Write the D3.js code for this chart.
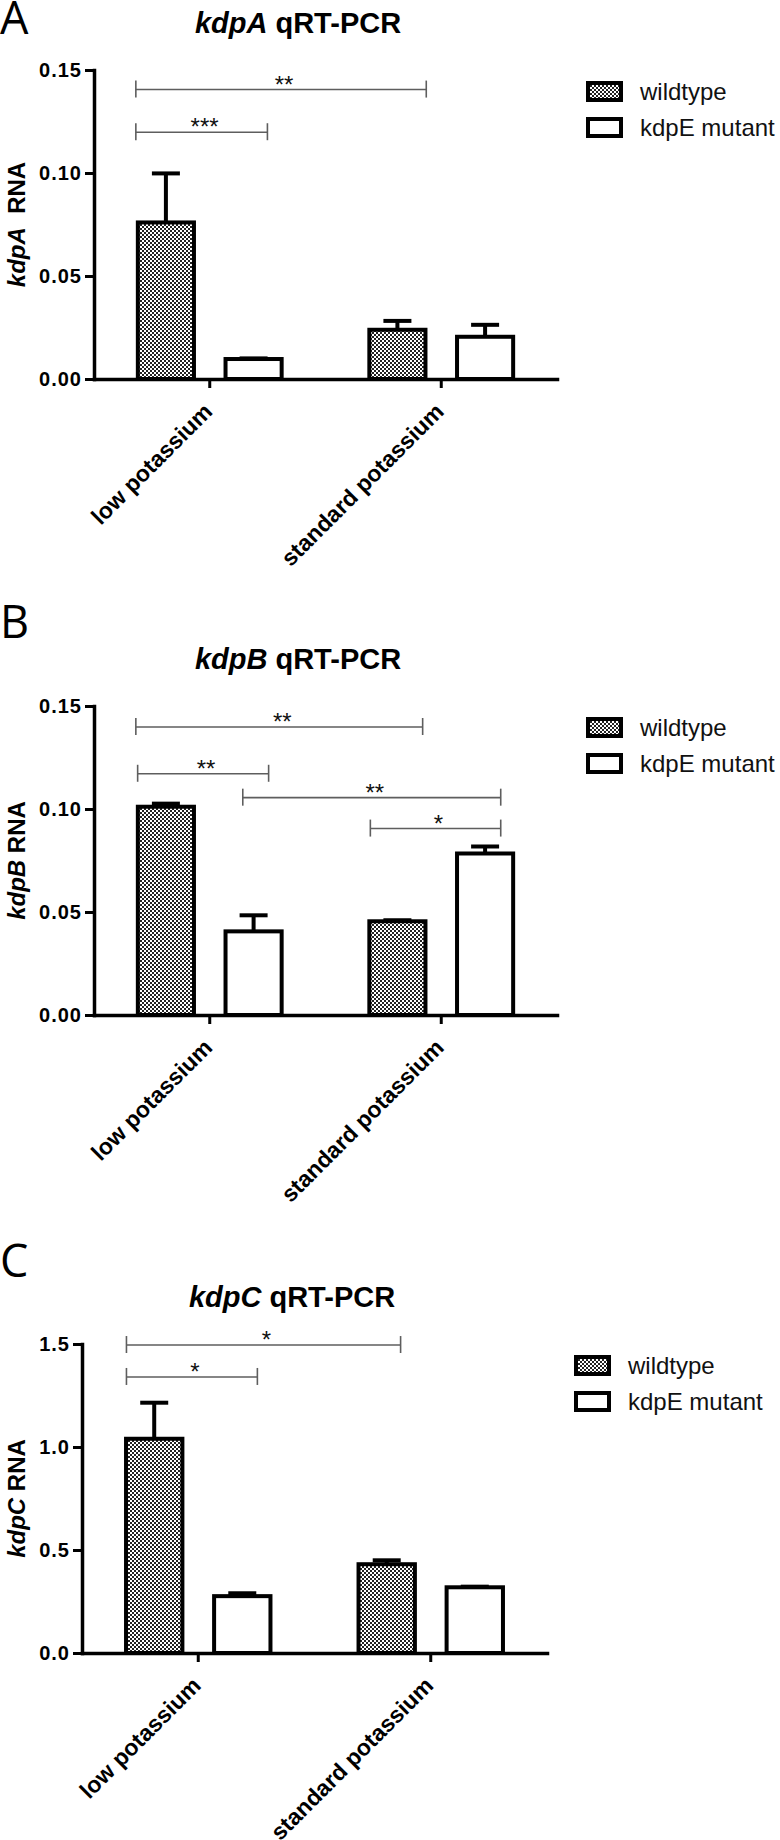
<!DOCTYPE html>
<html lang="en">
<head>
<meta charset="UTF-8">
<script src="https://cdn.jsdelivr.net/npm/d3@7"></script>
<title>kdp qRT-PCR</title>
<style>
    body { margin: 0; background: #fff; }
    text { font-family: "Liberation Sans", Arial, sans-serif; }
</style>
</head>
<body>
<svg width="780" height="1840"></svg>
<script>
// categories on the x axis and the two strains
var conditions = ["low potassium", "standard potassium"];
var strains = ["wildtype", "kdpE mutant"];

// means and error (SEM), order = conditions
var kdpA_wildtype = [0.076, 0.0239];
var kdpA_mutant = [0.0097, 0.0205];
var kdpA_wildtypeErr = [0.0238, 0.0043];
var kdpA_mutantErr = [0.0003, 0.0058];

var kdpB_wildtype = [0.1011, 0.0455];
var kdpB_mutant = [0.0406, 0.0784];
var kdpB_wildtypeErr = [0.0015, 0.0005];
var kdpB_mutantErr = [0.0078, 0.0034];

var kdpC_wildtype = [1.04, 0.431];
var kdpC_mutant = [0.276, 0.319];
var kdpC_wildtypeErr = [0.175, 0.019];
var kdpC_mutantErr = [0.014, 0.003];

// y tick labels
var ticksAB = [0, 0.05, 0.10, 0.15];
var ticksC = [0, 0.5, 1.0, 1.5];

// significance brackets: ends are [condition, strain, offset in bar widths]
var kdpA_sig = [
    {y: 0.1405, from: [0, 0, -0.5], to: [1, 0, 0.48], label: "**"},
    {y: 0.1198, from: [0, 0, -0.5], to: [0, 1, 0.23], label: "***"}
];
var kdpB_sig = [
    {y: 0.1398, from: [0, 0, -0.5], to: [1, 0, 0.42], label: "**"},
    {y: 0.1171, from: [0, 0, -0.47], to: [0, 1, 0.25], label: "**"},
    {y: 0.1055, from: [0, 1, -0.18], to: [1, 1, 0.26], label: "**"},
    {y: 0.0905, from: [1, 0, -0.45], to: [1, 1, 0.26], label: "*"}
];
var kdpC_sig = [
    {y: 1.495, from: [0, 0, -0.46], to: [1, 0, 0.23], label: "*"},
    {y: 1.34, from: [0, 0, -0.46], to: [0, 1, 0.25], label: "*"}
];

var panels = [
    {letter: "A", gene: "kdpA", gap: "  ", top: 70, left: 94, right: 557, letterY: 34, titleX: 298,
     max: 0.15, ticks: ticksAB, fmt: ".2f",
     wt: kdpA_wildtype, mut: kdpA_mutant, wtErr: kdpA_wildtypeErr, mutErr: kdpA_mutantErr, sig: kdpA_sig},
    {letter: "B", gene: "kdpB", gap: " ", top: 706, left: 94, right: 557, letterY: 638, titleX: 298,
     max: 0.15, ticks: ticksAB, fmt: ".2f",
     wt: kdpB_wildtype, mut: kdpB_mutant, wtErr: kdpB_wildtypeErr, mutErr: kdpB_mutantErr, sig: kdpB_sig},
    {letter: "C", gene: "kdpC", gap: " ", top: 1344, left: 82, right: 547, letterY: 1277, titleX: 292,
     max: 1.5, ticks: ticksC, fmt: ".1f",
     wt: kdpC_wildtype, mut: kdpC_mutant, wtErr: kdpC_wildtypeErr, mutErr: kdpC_mutantErr, sig: kdpC_sig}
];

var svg = d3.select("svg");
svg.append("rect").attr("width", 780).attr("height", 1840).attr("fill", "#fff");

// fine checker fill used for wildtype bars
var pat = svg.append("defs").append("pattern")
    .attr("id", "checker")
    .attr("patternUnits", "userSpaceOnUse")
    .attr("width", 4).attr("height", 4);
pat.append("rect").attr("width", 4).attr("height", 4).attr("fill", "#fff");
pat.append("rect").attr("width", 2).attr("height", 2).attr("fill", "#222");
pat.append("rect").attr("x", 2).attr("y", 2).attr("width", 2).attr("height", 2).attr("fill", "#222");

var fills = {"wildtype": "url(#checker)", "kdpE mutant": "#fff"};
var plotH = 309;

panels.forEach(drawPanel);

function drawPanel(p) {
    var bottom = p.top + plotH;
    var g = svg.append("g");

    var x0 = d3.scaleBand().domain(conditions).range([p.left, p.right]);
    var x1 = d3.scaleBand().domain(strains).range([0, x0.bandwidth()])
        .paddingInner(0.36).paddingOuter(0.5);
    var y = d3.scaleLinear().domain([0, p.max]).range([bottom, p.top]);

    // panel letter
    g.append("text")
        .attr("x", 0).attr("y", p.letterY)
        .style("font-family", "'Open Sans', sans-serif")
        .attr("font-size", 45)
        .text(p.letter);

    // title
    var t = g.append("text")
        .attr("x", p.titleX).attr("y", p.top - 37)
        .attr("text-anchor", "middle")
        .attr("font-size", 29).attr("font-weight", "bold");
    t.append("tspan").attr("font-style", "italic").text(p.gene);
    t.append("tspan").text(" qRT-PCR");

    // y label
    var yl = g.append("text")
        .attr("transform", "translate(25," + (p.top + bottom) / 2 + ") rotate(-90)")
        .attr("text-anchor", "middle")
        .attr("font-size", 24).attr("font-weight", "bold")
        .style("white-space", "pre");
    yl.append("tspan").attr("font-style", "italic").text(p.gene);
    yl.append("tspan").text(p.gap + "RNA");

    // bars
    var rows = [];
    conditions.forEach(function (c, i) {
        rows.push({cond: c, strain: strains[0], v: p.wt[i], e: p.wtErr[i]});
        rows.push({cond: c, strain: strains[1], v: p.mut[i], e: p.mutErr[i]});
    });

    var bw = x1.bandwidth();
    function cx(d) { return x0(d.cond) + x1(d.strain) + bw / 2; }

    // error bars (upper only)
    g.selectAll(".err").data(rows).enter().append("line")
        .attr("x1", cx).attr("x2", cx)
        .attr("y1", function (d) { return y(d.v); })
        .attr("y2", function (d) { return y(d.v + d.e); })
        .attr("stroke", "#000").attr("stroke-width", 4);
    g.selectAll(".cap").data(rows).enter().append("line")
        .attr("x1", function (d) { return cx(d) - 14; })
        .attr("x2", function (d) { return cx(d) + 14; })
        .attr("y1", function (d) { return y(d.v + d.e); })
        .attr("y2", function (d) { return y(d.v + d.e); })
        .attr("stroke", "#000").attr("stroke-width", 4);

    g.selectAll(".bar").data(rows).enter().append("rect")
        .attr("x", function (d) { return x0(d.cond) + x1(d.strain); })
        .attr("y", function (d) { return y(d.v); })
        .attr("width", bw)
        .attr("height", function (d) { return bottom - y(d.v); })
        .attr("fill", function (d) { return fills[d.strain]; })
        .attr("stroke", "#000").attr("stroke-width", 4);

    // axes
    var ya = g.append("g")
        .attr("transform", "translate(" + p.left + ",0)")
        .call(d3.axisLeft(y).tickValues(p.ticks).tickFormat(d3.format(p.fmt))
            .tickSize(9).tickPadding(3).tickSizeOuter(0));
    ya.select(".domain").attr("stroke-width", 3.5).attr("stroke-linecap", "square");
    ya.selectAll(".tick line").attr("stroke-width", 3);
    ya.selectAll(".tick text")
        .attr("font-size", 20).attr("font-weight", "bold")
        .attr("letter-spacing", 1).attr("fill", "#000")
        .style("font-family", "'Liberation Sans', Arial, sans-serif");

    var xa = g.append("g")
        .attr("transform", "translate(0," + bottom + ")")
        .call(d3.axisBottom(x0).tickSize(9).tickSizeOuter(0));
    xa.select(".domain").attr("stroke-width", 3.5).attr("stroke-linecap", "square");
    xa.selectAll(".tick line").attr("stroke-width", 3);
    xa.selectAll(".tick text")
        .attr("x", 0).attr("y", 0).attr("dy", 0)
        .attr("text-anchor", "end")
        .attr("transform", "translate(4,34) rotate(-45)")
        .attr("font-size", 23).attr("font-weight", "bold").attr("fill", "#000")
        .style("font-family", "'Liberation Sans', Arial, sans-serif");

    // significance brackets
    function bx(e) {
        return x0(conditions[e[0]]) + x1(strains[e[1]]) + bw / 2 + e[2] * (bw + 4);
    }
    p.sig.forEach(function (s) {
        var yy = y(s.y), xa1 = bx(s.from), xa2 = bx(s.to);
        var b = g.append("g").attr("stroke", "#5e5e5e").attr("stroke-width", 1.6);
        b.append("line").attr("x1", xa1).attr("x2", xa2).attr("y1", yy).attr("y2", yy);
        b.append("line").attr("x1", xa1).attr("x2", xa1).attr("y1", yy - 9).attr("y2", yy + 8);
        b.append("line").attr("x1", xa2).attr("x2", xa2).attr("y1", yy - 9).attr("y2", yy + 8);
        g.append("text")
            .attr("x", (xa1 + xa2) / 2 + 3).attr("y", yy + 3)
            .attr("text-anchor", "middle")
            .attr("font-size", 24).attr("fill", "#111")
            .text(s.label);
    });

    // legend
    var lg = g.append("g").attr("transform", "translate(" + (p.left + 492) + "," + (p.top + 11) + ")");
    strains.forEach(function (s, i) {
        lg.append("rect")
            .attr("x", 2).attr("y", 2 + i * 36)
            .attr("width", 33).attr("height", 17)
            .attr("fill", fills[s]).attr("stroke", "#000").attr("stroke-width", 4);
        lg.append("text")
            .attr("x", 54).attr("y", 19 + i * 36)
            .attr("font-size", 24).attr("fill", "#111")
            .text(s);
    });
}
</script>
</body>
</html>
